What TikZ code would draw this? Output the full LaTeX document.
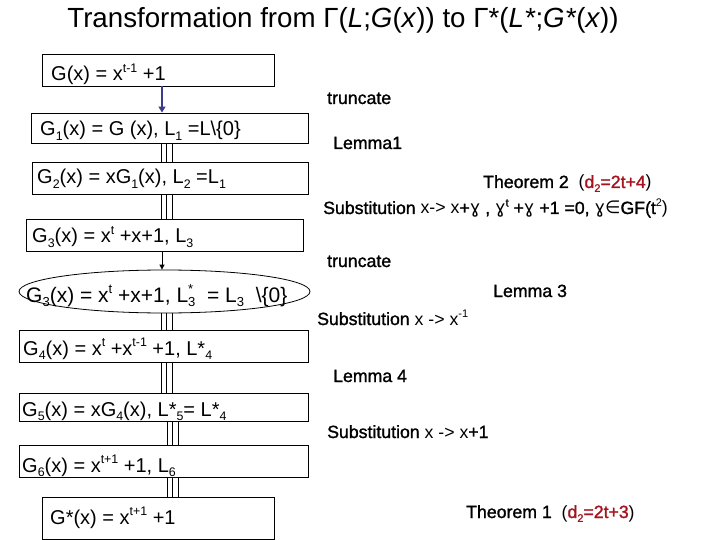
\documentclass[tikz,border=0pt]{standalone}
\usepackage{fontspec}
\setmainfont{Liberation Sans}
\newfontfamily\heavy{Liberation Sans}[FakeBold=1.3]
\newfontfamily\dejavu{DejaVu Sans}
\usetikzlibrary{shapes.geometric,arrows.meta}
\definecolor{darkred}{RGB}{165,20,30}
\definecolor{arrowblue}{RGB}{60,60,140}
\newcommand\sps[1]{\raisebox{0.42em}{\scalebox{0.62}{#1}}}
\newcommand\sbs[1]{\raisebox{-0.22em}{\scalebox{0.62}{#1}}}
\newcommand\gm{{\dejavu ɣ}}
\newcommand\reg[1]{{\normalfont #1}}
\begin{document}
\begin{tikzpicture}[x=1pt,y=-1pt,
  box/.style args={#1/#2}{draw, line width=0.9pt, inner sep=0pt, minimum width=#1pt, minimum height=#2pt},
  txt/.style={anchor=base west, inner sep=0pt, font=\fontsize{20}{24}\selectfont},
  lbl/.style={anchor=base west, inner sep=0pt, font=\heavy\fontsize{17.7}{21}\selectfont},
  triple/.style={line width=0.8pt},
  bluearrow/.style={arrowblue, line width=2.2pt, -{Triangle[width=7pt,length=6pt]}},
  thinarrow/.style={line width=0.8pt, -{Triangle[width=5pt,length=5pt]}}]
\fill[white] (0,0) rectangle (720,540);
\useasboundingbox (0,0) rectangle (720,540);

% title
\node[anchor=base, inner sep=0pt, font=\fontsize{27.7}{32}\selectfont] (title) at (343,28)
  {Transformation from Γ(\textit{L};\textit{G}(\textit{x})) to Γ*(\textit{L*};\textit{G*}(\textit{x}))};

% boxes
\node[box={232/32}] (B0) at (158,70) {};
\node[box={277/30}] (B1) at (169.5,128) {};
\node[box={276/32}] (B2) at (170,178) {};
\node[box={277/32}] (B3) at (164.5,235) {};
\node[draw, ellipse, line width=0.8pt, inner sep=0pt, minimum width=291pt, minimum height=43pt] (E) at (164.5,291.5) {};
\node[box={289/32}] (B4) at (163.5,346) {};
\node[box={289/28}] (B5) at (163.5,407) {};
\node[box={289/32}] (B6) at (163.5,461) {};
\node[box={232/42}] (B7) at (158,518) {};

% box texts
\node[txt] (T0) at (51,81) {G(x) = x\sps{t-1} +1};
\node[txt] (T1) at (40,136) {G\sbs{1}(x) = G (x), L\sbs{1} =L\textbackslash\{0\}};
\node[txt] (T2) at (37,184) {G\sbs{2}(x) = xG\sbs{1}(x), L\sbs{2} =L\sbs{1}};
\node[txt] (T3) at (32,243) {G\sbs{3}(x) = x\sps{t} +x+1, L\sbs{3}};
\node[txt, font=\fontsize{21}{25}\selectfont] (TE) at (26,302) {G\sbs{3}(x) = x\sps{t} +x+1, L\rlap{\sps{*}}\sbs{3}~~= L\sbs{3}~~\textbackslash\{0\}};
\node[txt] (T4) at (23,355) {G\sbs{4}(x) = x\sps{t} +x\sps{t-1} +1, L*\sbs{4}};
\node[txt] (T5) at (22,416) {G\sbs{5}(x) = xG\sbs{4}(x), L*\sbs{5}= L*\sbs{4}};
\node[txt] (T6) at (22,472) {G\sbs{6}(x) = x\sps{t+1} +1, L\sbs{6}};
\node[txt] (T7) at (50,524) {G*(x) = x\sps{t+1} +1};

% connectors
\draw[bluearrow] (162,0 |- B0.south) -- (162,0 |- B1.north);
\foreach \xx in {161,166.5,172} {
  \draw[triple] (\xx,0 |- B1.south) -- (\xx,0 |- B2.north);
  \draw[triple] (\xx,0 |- B2.south) -- (\xx,0 |- B3.north);
  \draw[triple] (\xx,0 |- E.south) -- (\xx,0 |- B4.north);
  \draw[triple] (\xx,0 |- B4.south) -- (\xx,0 |- B5.north);
}
\foreach \xx in {167,172.5,178} {
  \draw[triple] (\xx,0 |- B5.south) -- (\xx,0 |- B6.north);
  \draw[triple] (\xx,0 |- B6.south) -- (\xx,0 |- B7.north);
}
\draw[thinarrow] (162,0 |- B3.south) -- (162,0 |- E.north);

% labels
\node[lbl] (L1) at (327,104) {truncate};
\node[lbl] (L2) at (333,149) {Lemma1};
\node[lbl] (L3) at (483,188) {Theorem 2~~\reg{(}\textcolor{darkred}{d\sbs{2}=2t+4}\reg{)}};
\node[lbl] (L4) at (323,214) {Substitution \reg{x-> x}+\gm{} , \gm\sps{t} +\gm{} +1 =0, \gm{\dejavu ∈}GF(t\sps{\reg{2}}\reg{)}};
\node[lbl] (L5) at (327,267) {truncate};
\node[lbl] (L6) at (493,297) {Lemma 3};
\node[lbl] (L7) at (317,325) {Substitution \reg{x -> x\sps{-1}}};
\node[lbl] (L8) at (333,382) {Lemma 4};
\node[lbl] (L9) at (327,438) {Substitution \reg{x -> x}+1};
\node[lbl] (L10) at (466,518) {Theorem 1~~\reg{(}\textcolor{darkred}{d\sbs{2}=2t+3}\reg{)}};
\end{tikzpicture}
\end{document}
